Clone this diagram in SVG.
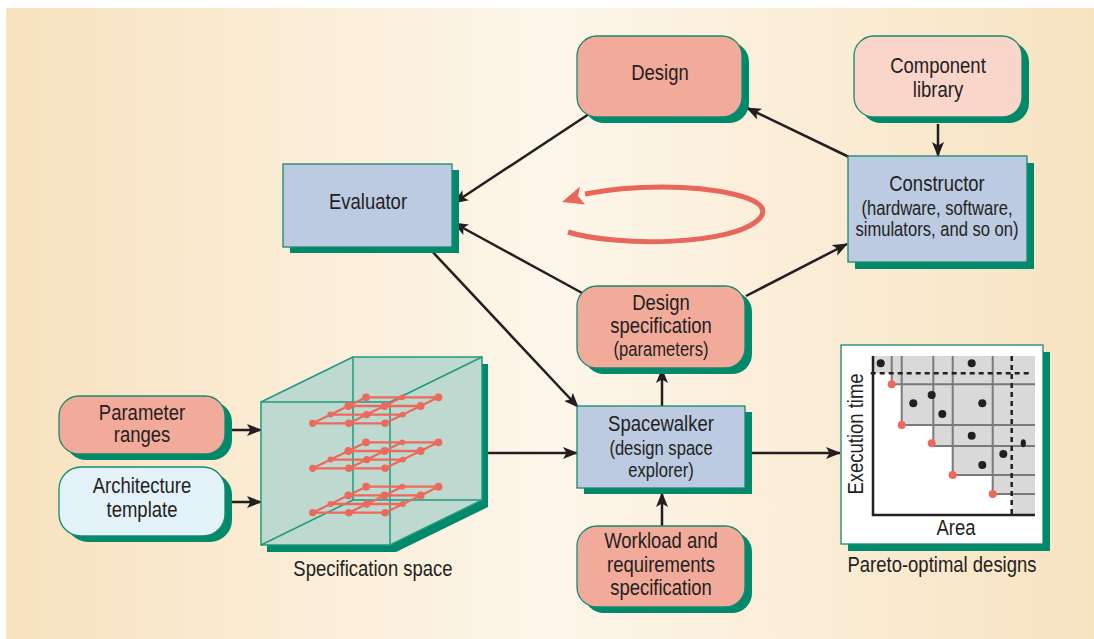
<svg xmlns="http://www.w3.org/2000/svg" width="1094" height="639" viewBox="0 0 1094 639">
  <defs>
    <linearGradient id="bg" x1="0" y1="0" x2="1" y2="0">
      <stop offset="0" stop-color="#f8e2bf"/>
      <stop offset="0.5" stop-color="#fdf6ea"/>
      <stop offset="1" stop-color="#f8e3c1"/>
    </linearGradient>
    <marker id="ah" viewBox="0 0 15 12" refX="14" refY="6" markerWidth="15" markerHeight="12" markerUnits="userSpaceOnUse" orient="auto">
      <path d="M0,0 L15,6 L0,12 L3.5,6 Z" fill="#231f20"/>
    </marker>
    <!-- one layer of the parameter grid inside the specification cube -->
    <g id="gridLayer">
      <path class="grid" d="M312.7,0 H385.1 M330.5,-8.7 H402.9 M348.3,-17.3 H420.7 M366.1,-26 H438.5 M312.7,0 L366.1,-26 M348.9,0 L402.3,-26 M385.1,0 L438.5,-26"/>
      <g class="gdot">
        <circle cx="312.7" cy="0" r="3.6"/>
        <circle cx="348.9" cy="0" r="3.8"/>
        <circle cx="385.1" cy="0" r="3.8"/>
        <circle cx="330.5" cy="-8.7" r="3"/>
        <circle cx="366.7" cy="-8.7" r="3.7"/>
        <circle cx="402.9" cy="-8.7" r="2.9"/>
        <circle cx="348.3" cy="-17.3" r="3.9"/>
        <circle cx="384.5" cy="-17.3" r="3.9"/>
        <circle cx="420.7" cy="-17.3" r="3.9"/>
        <circle cx="366.1" cy="-26" r="3.9"/>
        <circle cx="402.3" cy="-26" r="2.9"/>
        <circle cx="438.5" cy="-26" r="3.9"/>
      </g>
    </g>
  </defs>
  <style>
    text { font-family: "Liberation Sans", Arial, sans-serif; font-size: 21.5px; fill: #231f20; text-anchor: middle; }
    .sub { font-size: 19.3px; }
    .shadow { fill: #00896a; }
    .node { stroke: #17896d; stroke-width: 1.3; }
    .salmon { fill: #f2ab9b; }
    .pink { fill: #f9d5ca; }
    .blue { fill: #bccae2; }
    .ice { fill: #e3f2f8; }
    .conn { stroke: #231f20; stroke-width: 2.5; fill: none; marker-end: url(#ah); }
    .grid { stroke: #ec6a5c; stroke-width: 2.3; fill: none; }
    .gdot { fill: #ec6a5c; }
    .edge { stroke: #1e9a7f; stroke-width: 1.5; fill: none; }
    .chartline { stroke: #7a7a7a; stroke-width: 2; fill: none; }
    .axis { stroke: #231f20; stroke-width: 2.5; fill: none; }
    .dash { stroke: #231f20; stroke-width: 2.5; fill: none; stroke-dasharray: 5 4; }
  </style>

  <!-- background panel -->
  <rect x="0" y="0" width="1094" height="639" fill="#ffffff"/>
  <rect x="6" y="8" width="1088" height="631" fill="url(#bg)"/>

  <!-- loop indicator -->
  <g id="loop">
    <path d="M568,232 C615,247 735,246 760,218 C778,196 705,187 662,187 C630,187 605,190 585,194" fill="none" stroke="#e8675a" stroke-width="5"/>
    <path d="M562,202 L580,186.5 L578,196 L585,204.5 Z" fill="#e8675a"/>
  </g>

  <!-- connectors -->
  <g id="connectors">
    <line class="conn" x1="592" y1="112" x2="454" y2="203"/>
    <line class="conn" x1="584" y1="294" x2="454" y2="223"/>
    <line class="conn" x1="429" y1="248" x2="578" y2="407"/>
    <line class="conn" x1="849" y1="157" x2="747" y2="108"/>
    <line class="conn" x1="938" y1="124" x2="938" y2="156"/>
    <line class="conn" x1="746" y1="296" x2="847" y2="244"/>
    <line class="conn" x1="662" y1="406" x2="662" y2="369"/>
    <line class="conn" x1="662" y1="526" x2="662" y2="493"/>
    <line class="conn" x1="488" y1="453" x2="577" y2="453"/>
    <line class="conn" x1="752" y1="453" x2="840" y2="453"/>
    <line class="conn" x1="228" y1="430" x2="261" y2="430"/>
    <line class="conn" x1="228" y1="502" x2="261" y2="502"/>
  </g>

  <!-- Design -->
  <g id="design">
    <rect class="shadow" x="584" y="42" width="165" height="81" rx="20"/>
    <rect class="node salmon" x="577" y="36" width="165" height="81" rx="20"/>
    <g transform="translate(660,0) scale(0.86,1)"><text x="0" y="80">Design</text></g>
  </g>

  <!-- Component library -->
  <g id="component-library">
    <rect class="shadow" x="861" y="42" width="168" height="81" rx="20"/>
    <rect class="node pink" x="854" y="36" width="168" height="81" rx="20"/>
    <g transform="translate(938,0) scale(0.86,1)">
      <text x="0" y="73.5">Component</text>
      <text x="0" y="97">library</text>
    </g>
  </g>

  <!-- Constructor -->
  <g id="constructor">
    <rect class="shadow" x="855" y="163" width="179" height="106"/>
    <rect class="node blue" x="848" y="156" width="179" height="106"/>
    <g transform="translate(937,0) scale(0.86,1)">
      <text x="0" y="191.5">Constructor</text>
      <text class="sub" x="0" y="215.5">(hardware, software,</text>
      <text class="sub" x="0" y="236">simulators, and so on)</text>
    </g>
  </g>

  <!-- Evaluator -->
  <g id="evaluator">
    <rect class="shadow" x="290" y="170" width="169" height="83"/>
    <rect class="node blue" x="283" y="164" width="169" height="83"/>
    <g transform="translate(368,0) scale(0.86,1)"><text x="0" y="209">Evaluator</text></g>
  </g>

  <!-- Design specification -->
  <g id="design-specification">
    <rect class="shadow" x="584" y="292" width="168" height="82" rx="20"/>
    <rect class="node salmon" x="577" y="286" width="168" height="82" rx="20"/>
    <g transform="translate(661,0) scale(0.86,1)">
      <text x="0" y="310">Design</text>
      <text x="0" y="333.5">specification</text>
      <text class="sub" x="0" y="356">(parameters)</text>
    </g>
  </g>

  <!-- Spacewalker -->
  <g id="spacewalker">
    <rect class="shadow" x="584" y="412" width="168" height="82"/>
    <rect class="node blue" x="577" y="406" width="168" height="82"/>
    <g transform="translate(661,0) scale(0.86,1)">
      <text x="0" y="431.5">Spacewalker</text>
      <text class="sub" x="0" y="455">(design space</text>
      <text class="sub" x="0" y="477">explorer)</text>
    </g>
  </g>

  <!-- Workload and requirements specification -->
  <g id="workload">
    <rect class="shadow" x="584" y="532" width="168" height="81" rx="20"/>
    <rect class="node salmon" x="577" y="526" width="168" height="81" rx="20"/>
    <g transform="translate(661,0) scale(0.86,1)">
      <text x="0" y="548.5">Workload and</text>
      <text x="0" y="572">requirements</text>
      <text x="0" y="595">specification</text>
    </g>
  </g>

  <!-- Parameter ranges -->
  <g id="parameter-ranges">
    <rect class="shadow" x="66" y="402" width="166" height="58" rx="20"/>
    <rect class="node salmon" x="59" y="396" width="166" height="58" rx="20"/>
    <g transform="translate(142,0) scale(0.86,1)">
      <text x="0" y="420">Parameter</text>
      <text x="0" y="442">ranges</text>
    </g>
  </g>

  <!-- Architecture template -->
  <g id="architecture-template">
    <rect class="shadow" x="66" y="473" width="166" height="69" rx="22"/>
    <rect class="node ice" x="59" y="467" width="166" height="69" rx="22"/>
    <g transform="translate(142,0) scale(0.86,1)">
      <text x="0" y="493.5">Architecture</text>
      <text x="0" y="517">template</text>
    </g>
  </g>

  <!-- Specification space cube -->
  <g id="specification-space">
    <polygon class="shadow" points="267,409 359,364 488,364 488,507 396,552 267,552"/>
    <polygon points="261,402 353,357 482,357 482,500 390,545 261,545" fill="#bed9cf"/>
    <rect class="edge" x="353" y="357" width="129" height="143"/>
    <path class="edge" d="M261,402 L353,357 M390,402 L482,357 M390,545 L482,500 M261,545 L353,500"/>
    <rect class="edge" x="261" y="402" width="129" height="143"/>
    <use href="#gridLayer" transform="translate(0,423.3)"/>
    <use href="#gridLayer" transform="translate(0,468.3)"/>
    <use href="#gridLayer" transform="translate(0,512.7)"/>
    <g transform="translate(373,0) scale(0.86,1)"><text x="0" y="576">Specification space</text></g>
  </g>

  <!-- Pareto-optimal designs chart -->
  <g id="pareto-optimal-designs">
    <rect class="shadow" x="848" y="352" width="202" height="199"/>
    <rect class="node" x="841" y="345" width="202" height="199" fill="#ffffff"/>
    <path d="M873,356 H1035 V515 H1011.7 V494 H992.7 V475 H952.7 V446 H933.3 V425 H901.7 V384.3 H891.7 V373.3 H873 Z" fill="#d9d9d9"/>
    <path class="chartline" d="M891.7,356 V384.3 M901.7,356 V425 M933.3,356 V446 M952.7,356 V475 M992.7,356 V494 M891.7,384.3 H1035 M901.7,425 H1035 M933.3,446 H1035 M952.7,475 H1035 M992.7,494 H1035"/>
    <path class="dash" d="M870.7,373.3 H1032"/>
    <path class="dash" d="M1011.7,356 V515"/>
    <path class="axis" d="M873,356 V515 H1035"/>
    <g fill="#ec6a5c">
      <circle cx="891.7" cy="384.3" r="4"/>
      <circle cx="901.7" cy="425" r="4"/>
      <circle cx="931.7" cy="443.3" r="4"/>
      <circle cx="952.7" cy="475" r="4"/>
      <circle cx="992.7" cy="494" r="4"/>
    </g>
    <g fill="#231f20">
      <circle cx="880.7" cy="363.3" r="4"/>
      <circle cx="971.7" cy="363.3" r="4"/>
      <circle cx="913.3" cy="403.3" r="4"/>
      <circle cx="931.7" cy="395" r="4"/>
      <circle cx="942.3" cy="414" r="4"/>
      <circle cx="982.3" cy="403.3" r="4"/>
      <circle cx="971.7" cy="435.7" r="4"/>
      <ellipse cx="1023.3" cy="443.3" rx="2.6" ry="4"/>
      <circle cx="1003.3" cy="454" r="4"/>
      <circle cx="982.3" cy="465" r="4"/>
    </g>
    <g transform="translate(863,434) rotate(-90) scale(0.86,1)"><text x="0" y="0">Execution time</text></g>
    <g transform="translate(956,0) scale(0.86,1)"><text x="0" y="535">Area</text></g>
    <g transform="translate(942,0) scale(0.86,1)"><text x="0" y="572">Pareto-optimal designs</text></g>
  </g>
</svg>
